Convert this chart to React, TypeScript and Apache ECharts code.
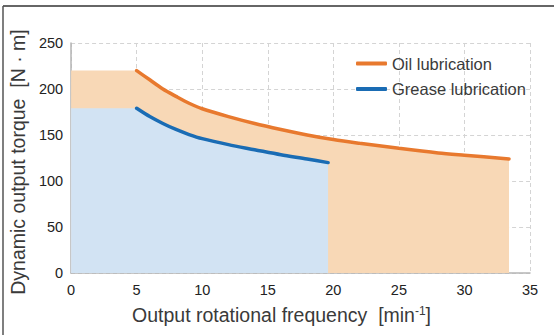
import React, { useEffect, useRef } from "react";
import * as echarts from "echarts";

const xTicks = [0, 5, 10, 15, 20, 25, 30, 35];
const yTicks = [0, 50, 100, 150, 200, 250];

const oilFlatX = [0, 5];
const oilFlatY = [220, 220];
const oilX = [5, 6, 7, 8, 9, 10, 12, 14, 16, 18, 20, 22, 25, 28, 30, 33.4];
const oilY = [220, 210, 200, 192, 184.5, 178.5, 170, 162.5, 156, 150, 145, 141, 135.5, 130.5, 128, 124];

const greaseFlatX = [0, 5];
const greaseFlatY = [179, 179];
const greaseX = [5, 6, 7, 8, 9, 10, 12, 14, 16, 18, 19.6];
const greaseY = [179, 170, 162.5, 156, 150.5, 146, 139.5, 134, 128.5, 124, 120];

const seriesNames = ["Oil lubrication", "Grease lubrication"];

const zip = (xs: number[], ys: number[]) => xs.map((x, i) => [x, ys[i]]);

export default function App() {
  const ref = useRef<HTMLDivElement>(null);
  useEffect(() => {
    document.body.style.margin = "0";
    if (!ref.current) return;
    const chart = echarts.init(ref.current, null, { renderer: "svg" });
    const font = "'Liberation Sans', Arial, Helvetica, sans-serif";
    const oilAll = [...zip(oilFlatX, oilFlatY), ...zip(oilX, oilY).slice(1)];
    const greaseAll = [...zip(greaseFlatX, greaseFlatY), ...zip(greaseX, greaseY).slice(1)];
    chart.setOption({
      animation: false,
      textStyle: { fontFamily: font },
      grid: { left: 71, right: 24, top: 43, bottom: 62, containLabel: false },
      legend: {
        orient: "vertical",
        left: 351,
        top: 50,
        itemWidth: 31,
        itemHeight: 4,
        itemGap: 8.6,
        icon: "roundRect",
        textStyle: { fontSize: 16.5, color: "#3a3a3a", fontFamily: font, lineHeight: 16 },
        data: seriesNames,
      },
      xAxis: {
        type: "value",
        min: xTicks[0],
        max: xTicks[xTicks.length - 1],
        interval: 5,
        name: "Output rotational frequency  [min{sup|-1}]",
        nameLocation: "middle",
        nameGap: 32,
        nameTextStyle: {
          fontSize: 19.5,
          color: "#3a3a3a",
          fontFamily: font,
          padding: [0, 38, 0, 0],
          rich: {
            sup: { fontSize: 12, verticalAlign: "top", color: "#3a3a3a", fontFamily: font },
          },
        },
        axisLine: { show: true, lineStyle: { color: "#b5b5b5", width: 1.5 } },
        axisTick: { show: false },
        axisLabel: { fontSize: 14.5, color: "#222", margin: 9, fontFamily: font },
        splitLine: { show: true, lineStyle: { color: "#d4d4d4", type: [4, 3], width: 1 } },
      },
      yAxis: {
        type: "value",
        min: yTicks[0],
        max: yTicks[yTicks.length - 1],
        interval: 50,
        name: "Dynamic output torque  [N · m]",
        nameLocation: "middle",
        nameGap: 41,
        nameRotate: 90,
        nameTextStyle: { fontSize: 19.5, color: "#3a3a3a", fontFamily: font, padding: [0, 8, 0, 0] },
        axisLine: { show: true, lineStyle: { color: "#b5b5b5", width: 1.5 } },
        axisTick: { show: false },
        axisLabel: { fontSize: 14.5, color: "#222", margin: 8, fontFamily: font },
        splitLine: { show: true, lineStyle: { color: "#d4d4d4", type: [4, 3], width: 1 } },
      },
      graphic: [
        { type: "line", shape: { x1: 3, y1: 6, x2: 554, y2: 6 }, style: { stroke: "#333", lineWidth: 1.5 } },
        { type: "line", shape: { x1: 3, y1: 6, x2: 3, y2: 335 }, style: { stroke: "#555", lineWidth: 1.5 } },
      ],
      series: [
        {
          name: "oilArea",
          type: "line",
          data: oilAll,
          symbol: "none",
          lineStyle: { width: 0 },
          areaStyle: { color: "#f8d8b6", opacity: 1 },
          silent: true,
          z: 1,
        },
        {
          name: "greaseArea",
          type: "line",
          data: greaseAll,
          symbol: "none",
          lineStyle: { width: 0 },
          areaStyle: { color: "#d2e3f3", opacity: 1 },
          silent: true,
          z: 2,
        },
        {
          name: seriesNames[0],
          type: "line",
          data: zip(oilX, oilY),
          smooth: 0.3,
          symbol: "none",
          color: "#e8792e",
          lineStyle: { width: 3.5, color: "#e8792e", cap: "round" },
          z: 3,
        },
        {
          name: seriesNames[1],
          type: "line",
          data: zip(greaseX, greaseY),
          smooth: 0.3,
          symbol: "none",
          color: "#1a6cb4",
          lineStyle: { width: 3.5, color: "#1a6cb4", cap: "round" },
          z: 3,
        },
      ],
    });
    return () => chart.dispose();
  }, []);
  return <div ref={ref} style={{ width: 554, height: 335 }} />;
}
